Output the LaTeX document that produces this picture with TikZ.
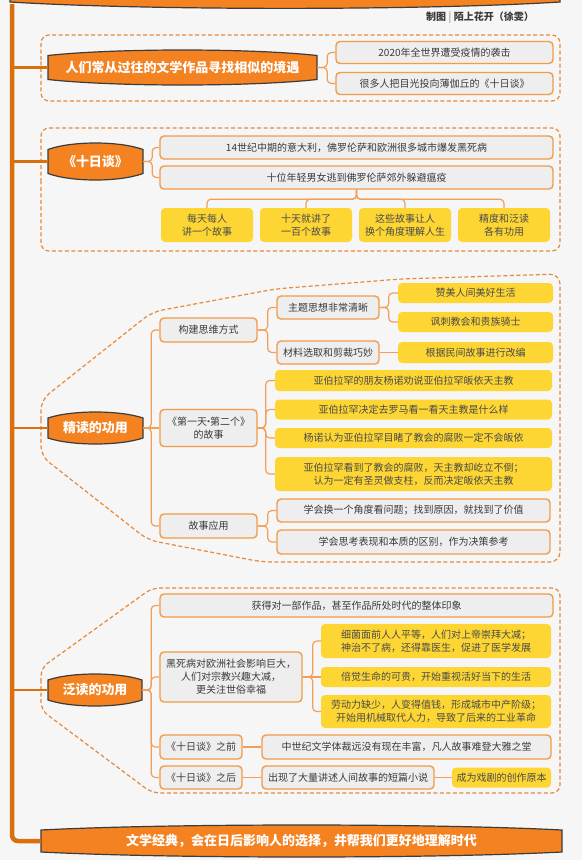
\documentclass[tikz,border=0pt]{standalone}
\usepackage{fontspec}
\setmainfont{Noto Sans CJK SC}
\usetikzlibrary{calc}
\definecolor{bgc}{HTML}{F6F6F6}
\definecolor{trunkc}{HTML}{D9700D}
\definecolor{mainfill}{HTML}{F58220}
\definecolor{mainline}{HTML}{3C3C3C}
\definecolor{greyfill}{HTML}{EEEEEE}
\definecolor{nodeline}{HTML}{F29B49}
\definecolor{yell}{HTML}{FDD633}
\definecolor{connc}{HTML}{F0A05A}
\definecolor{dashc}{HTML}{E8893A}
\definecolor{txt}{HTML}{3A3A3A}
\definecolor{ytxt}{HTML}{4A4A4A}
\newcommand\barrelpath[5]{%
  \filldraw[mainshape] (#1,{#2+#5}) .. controls ({#1+(#3-#1)/4},{#2-#5/3}) and ({#3-(#3-#1)/4},{#2-#5/3}) .. (#3,{#2+#5})
    -- (#3,{#4-#5}) .. controls ({#3-(#3-#1)/4},{#4+#5/3}) and ({#1+(#3-#1)/4},{#4+#5/3}) .. (#1,{#4-#5}) -- cycle;}
\begin{document}
\begin{tikzpicture}[x=1pt,y=-1pt,
  gnode/.style={draw=nodeline, line width=1.4pt, fill=greyfill, rounded corners=4pt, inner sep=0pt,
    font=\fontsize{10}{13}\selectfont, text=txt, align=center},
  ynode/.style={fill=yell, rounded corners=4pt, inner sep=0pt,
    font=\fontsize{10}{13}\selectfont, text=ytxt, align=center},
  conn/.style={draw=connc, line width=1.2pt, rounded corners=4pt},
  bound/.style={draw=dashc, line width=1.2pt, dash pattern=on 4pt off 2.5pt, rounded corners=8pt},
  mainshape/.style={fill=mainfill, draw=mainline, line width=1.2pt},
  maintext/.style={inner sep=0pt, text=white, font=\fontsize{13}{15}\selectfont\bfseries},
  trunk/.style={draw=trunkc, line width=4.5pt, rounded corners=6pt},
  branch/.style={draw=trunkc, line width=2.5pt}]
\useasboundingbox (0,0) rectangle (582,860);
\fill[bgc] (0,0) rectangle (582,860);

% boundaries
\draw[bound] (41,68) -- (41,35) -- (560,35) -- (560,101) -- (41,101) -- cycle;
\draw[bound] (41,190) -- (41,128) -- (560,128) -- (560,251) -- (41,251) -- cycle;
\draw[bound, rounded corners=10pt] (41,430) -- (41,400) -- (152,312) -- (275,289) -- (400,279) -- (560,274)
  -- (560,562) -- (262,562) -- (148,540) -- (41,456) -- cycle;
\draw[bound] (41,690) -- (41,668) -- (152,588) -- (560,588) -- (560,793) -- (152,793) -- (41,710) -- cycle;

% main nodes
\barrelpath{48}{50}{317}{85}{5.5}
\node[maintext, minimum width=269pt, minimum height=35pt] (s1) at (182.5,67.5) {人们常从过往的文学作品寻找相似的境遇};
\barrelpath{48}{143}{143}{180}{6.5}
\node[maintext, minimum width=95pt, minimum height=37pt] (s2) at (95.5,161.5) {《十日谈》};
\barrelpath{48}{412}{143}{444}{6}
\node[maintext, minimum width=95pt, minimum height=32pt] (s3) at (95.5,428) {精读的功用};
\barrelpath{48}{674}{142}{706}{6}
\node[maintext, minimum width=94pt, minimum height=32pt] (s4) at (95,690) {泛读的功用};
\barrelpath{41}{825}{562}{857}{5}
\node[maintext, minimum width=521pt, minimum height=32pt] (fin) at (301.5,841) {文学经典，会在日后影响人的选择，并帮我们更好地理解时代};

% trunk
\coordinate (trunktop) at (12,4);
\draw[trunk] (trunktop) -- (trunktop |- fin.west) -- (fin.west);
\draw[branch] (s1.west -| trunktop) -- (s1.west);
\draw[branch] (s2.west -| trunktop) -- (s2.west);
\draw[branch] (s3.west -| trunktop) -- (s3.west);
\draw[branch] (s4.west -| trunktop) -- (s4.west);

% top banner
\filldraw[mainshape] (10,-20) -- (560,-20) -- (560,2) .. controls (422,10.5) and (148,10.5) .. (10,2) -- cycle;

% credit
\node[font=\fontsize{10}{12}\selectfont\bfseries, text=txt, anchor=east, inner sep=0pt] (credit) at (534,18) {制图 {\color{gray!60}|} 陌上花开（徐雯）};

% section 1
\node[gnode, minimum width=217pt, minimum height=22pt] (a1) at (444.5,52.5) {2020年全世界遭受疫情的袭击};
\node[gnode, minimum width=217pt, minimum height=22pt] (a2) at (444.5,83.5) {很多人把目光投向薄伽丘的《十日谈》};
\draw[conn] (s1.east) -- ++(10,0) |- (a1.west);
\draw[conn] (s1.east) -- ++(10,0) |- (a2.west);

% section 2
\node[gnode, minimum width=393pt, minimum height=23pt] (b1) at (356.5,147.5) {14世纪中期的意大利，佛罗伦萨和欧洲很多城市爆发黑死病};
\node[gnode, minimum width=393pt, minimum height=23pt] (b2) at (356.5,177.5) {十位年轻男女逃到佛罗伦萨郊外躲避瘟疫};
\draw[conn] (s2.east) -- ++(9,0) |- (b1.west);
\draw[conn] (s2.east) -- ++(9,0) |- (b2.west);
\node[ynode, minimum width=92pt, minimum height=34pt] (y1) at (207,225) {每天每人\\讲一个故事};
\node[ynode, minimum width=92pt, minimum height=34pt] (y2) at (306,225) {十天就讲了\\一百个故事};
\node[ynode, minimum width=92pt, minimum height=34pt] (y3) at (405,225) {这些故事让人\\换个角度理解人生};
\node[ynode, minimum width=92pt, minimum height=34pt] (y4) at (504,225) {精度和泛读\\各有功用};
\foreach \k in {y1,y2,y3,y4} \draw[conn] (b2.south) -- ++(0,9.5) -| (\k.north);

% section 3
\node[gnode, minimum width=97pt, minimum height=24pt] (c1) at (208.5,330) {构建思维方式};
\node[gnode, minimum width=97pt, minimum height=37pt] (c2) at (208.5,428) {《第一天\kern-3.5pt·\kern-3.5pt第二个》\\的故事};
\node[gnode, minimum width=97pt, minimum height=24pt] (c3) at (208.5,526) {故事应用};
\draw[conn] (s3.east) -- ++(8,0) |- (c1.west);
\draw[conn] (s3.east) -- (c2.west);
\draw[conn] (s3.east) -- ++(8,0) |- (c3.west);
\node[gnode, minimum width=102pt, minimum height=23pt] (d1) at (328,307.5) {主题思想非常清晰};
\node[gnode, minimum width=102pt, minimum height=23pt] (d2) at (328,352.5) {材料选取和剪裁巧妙};
\draw[conn] (c1.east) -- ++(10,0) |- (d1.west);
\draw[conn] (c1.east) -- ++(10,0) |- (d2.west);
\node[ynode, minimum width=155pt, minimum height=20pt] (e1) at (475.5,293) {赞美人间美好生活};
\node[ynode, minimum width=155pt, minimum height=20pt] (e2) at (475.5,322) {讽刺教会和贵族骑士};
\node[ynode, minimum width=155pt, minimum height=21pt] (e3) at (475.5,352.5) {根据民间故事进行改编};
\draw[conn] (d1.east) -- ++(9,0) |- (e1.west);
\draw[conn] (d1.east) -- ++(9,0) |- (e2.west);
\draw[conn] (d2.east) -- (e3.west);
\node[ynode, minimum width=277pt, minimum height=21pt] (f1) at (413.5,380.5) {亚伯拉罕的朋友杨诺劝说亚伯拉罕皈依天主教};
\node[ynode, minimum width=277pt, minimum height=20pt] (f2) at (413.5,409.5) {亚伯拉罕决定去罗马看一看天主教是什么样};
\node[ynode, minimum width=277pt, minimum height=20pt] (f3) at (413.5,438) {杨诺认为亚伯拉罕目睹了教会的腐败一定不会皈依};
\node[ynode, minimum width=277pt, minimum height=34pt] (f4) at (413.5,474) {亚伯拉罕看到了教会的腐败，天主教却屹立不倒；\\认为一定有圣灵做支柱，反而决定皈依天主教};
\foreach \k in {f1,f2,f3,f4} \draw[conn] (c2.east) -- ++(8,0) |- (\k.west);
\node[gnode, minimum width=273pt, minimum height=23pt] (g1) at (413.5,510.5) {学会换一个角度看问题；找到原因，就找到了价值};
\node[gnode, minimum width=273pt, minimum height=24pt] (g2) at (413.5,542) {学会思考表现和本质的区别，作为决策参考};
\draw[conn] (c3.east) -- ++(10,0) |- (g1.west);
\draw[conn] (c3.east) -- ++(10,0) |- (g2.west);

% section 4
\node[gnode, minimum width=393pt, minimum height=23pt] (h1) at (356.5,605.5) {获得对一部作品，甚至作品所处时代的整体印象};
\node[gnode, minimum width=142pt, minimum height=50pt] (h2) at (231,677) {黑死病对欧洲社会影响巨大，\\人们对宗教兴趣大减，\\更关注世俗幸福};
\node[gnode, minimum width=82pt, minimum height=24pt] (h3) at (201,747) {《十日谈》之前};
\node[gnode, minimum width=82pt, minimum height=23pt] (h4) at (201,777.5) {《十日谈》之后};
\foreach \k in {h1,h2,h3,h4} \draw[conn] (s4.east) -- ++(9,0) |- (\k.west);
\node[ynode, minimum width=230pt, minimum height=34pt] (i1) at (436,641) {细菌面前人人平等，人们对上帝崇拜大减；\\神治不了病，还得靠医生，促进了医学发展};
\node[ynode, minimum width=230pt, minimum height=20pt] (i2) at (436,677) {倍觉生命的可贵，开始重视活好当下的生活};
\node[ynode, minimum width=230pt, minimum height=33pt] (i3) at (436,711.5) {劳动力缺少，人变得值钱，形成城市中产阶级；\\开始用机械取代人力，导致了后来的工业革命};
\draw[conn] (h2.east) -- ++(10,0) |- (i1.west);
\draw[conn] (h2.east) -- (i2.west);
\draw[conn] (h2.east) -- ++(10,0) |- (i3.west);
\node[gnode, minimum width=289pt, minimum height=24pt] (j1) at (406.5,747) {中世纪文学体裁远没有现在丰富，凡人故事难登大雅之堂};
\node[gnode, minimum width=172pt, minimum height=23pt] (j2) at (348,777.5) {出现了大量讲述人间故事的短篇小说};
\node[ynode, minimum width=99pt, minimum height=20pt] (k1) at (501.5,777.5) {成为戏剧的创作原本};
\draw[conn] (h3.east) -- (j1.west);
\draw[conn] (h4.east) -- (j2.west);
\draw[conn] (j2.east) -- (k1.west);
\end{tikzpicture}
\end{document}
